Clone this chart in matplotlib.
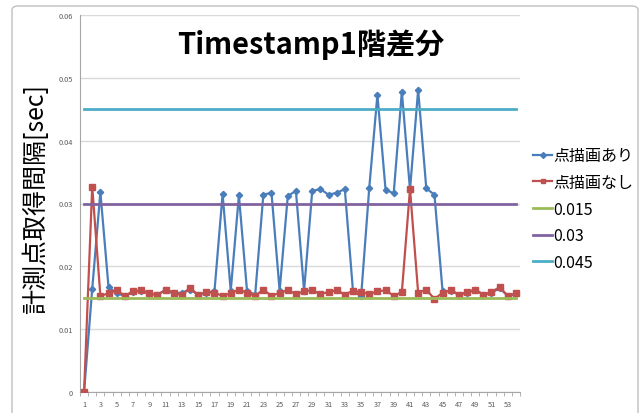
import numpy as np
import matplotlib.pyplot as plt
from matplotlib.patches import FancyBboxPatch

plt.rcParams['font.family'] = ['Noto Sans CJK JP', 'DejaVu Sans']

# sample index 1..54
idx = np.arange(1, 55)

# interval between measurement points, with point drawing
with_points = [
    0.0, 0.0164, 0.0318, 0.0167, 0.0157, 0.0153, 0.0159, 0.0161, 0.0156, 0.0155,
    0.0162, 0.0157, 0.0158, 0.0163, 0.0155, 0.0158, 0.0160, 0.0315, 0.0161, 0.0313,
    0.0161, 0.0155, 0.0314, 0.0317, 0.0161, 0.0312, 0.0320, 0.0161, 0.0320, 0.0323,
    0.0314, 0.0317, 0.0323, 0.0161, 0.0152, 0.0325, 0.0473, 0.0322, 0.0316, 0.0478,
    0.0322, 0.0481, 0.0324, 0.0314, 0.0160, 0.0161, 0.0155, 0.0158, 0.0162, 0.0155,
    0.0158, 0.0165, 0.0153, 0.0156,
]

# interval between measurement points, without point drawing
without_points = [
    0.0, 0.0327, 0.0153, 0.0157, 0.0162, 0.0153, 0.0160, 0.0162, 0.0158, 0.0154,
    0.0163, 0.0158, 0.0154, 0.0166, 0.0154, 0.0159, 0.0158, 0.0153, 0.0157, 0.0163,
    0.0158, 0.0153, 0.0163, 0.0153, 0.0158, 0.0162, 0.0156, 0.0160, 0.0162, 0.0156,
    0.0159, 0.0162, 0.0155, 0.0161, 0.0159, 0.0156, 0.0160, 0.0162, 0.0153, 0.0159,
    0.0323, 0.0158, 0.0163, 0.0148, 0.0158, 0.0162, 0.0155, 0.0159, 0.0163, 0.0155,
    0.0159, 0.0167, 0.0153, 0.0157,
]

# reference levels
levels = [0.015, 0.03, 0.045]
level_colors = ['#9BBB59', '#8064A2', '#4BACC6']

fig = plt.figure(figsize=(6.43, 4.14), dpi=100)
fig.patch.set_facecolor('white')

# chart frame
frame = FancyBboxPatch((12 / 643, -0.05), 626 / 643, 1 - 7 / 414 + 0.05,
                       boxstyle='round,pad=0,rounding_size=0.01',
                       transform=fig.transFigure, fill=False,
                       edgecolor='#BFBFBF', linewidth=1.0)
fig.patches.append(frame)

ax = fig.add_axes([80 / 643, 21 / 414, 440 / 643, 377 / 414])

ax.plot(idx, with_points, color='#4A7EBB', lw=1.6, marker='D', ms=3.2,
        label='点描画あり', zorder=3)
ax.plot(idx, without_points, color='#C0504D', lw=1.6, marker='s', ms=4.5,
        label='点描画なし', zorder=3)
for lv, col in zip(levels, level_colors):
    ax.plot(idx, np.full(len(idx), lv), color=col, lw=2.0, label=str(lv), zorder=4)

ax.set_xlim(0.5, 54.5)
ax.set_ylim(0, 0.06)

ax.set_yticks(np.arange(0, 0.061, 0.01))
ax.set_yticklabels(['0', '0.01', '0.02', '0.03', '0.04', '0.05', '0.06'])
ax.yaxis.grid(True, color='#D9D9D9', lw=1.0)
ax.set_axisbelow(True)

ax.set_xticks(idx[::2])
ax.set_xticklabels([str(i) for i in idx[::2]])
ax.set_xticks(np.arange(0.5, 55, 1), minor=True)
ax.tick_params(axis='x', which='major', length=0, labelsize=5.3, colors='#595959', pad=6)
ax.tick_params(axis='x', which='minor', length=3, color='#A6A6A6', direction='out')
ax.tick_params(axis='y', length=0, labelsize=5.3, colors='#595959', pad=5)

for side in ['top', 'right']:
    ax.spines[side].set_visible(False)
ax.spines['left'].set_color('#A6A6A6')
ax.spines['bottom'].set_color('#A6A6A6')

ax.set_ylabel('計測点取得間隔[sec]', fontsize=18)
ax.yaxis.set_label_coords(-0.07, 0.515)

fig.text(311 / 643, 1 - 45 / 414, 'Timestamp1階差分', ha='center', va='center',
         fontsize=21, fontweight='bold')

leg = ax.legend(loc='center left', bbox_to_anchor=(1.015, 0.485), frameon=False,
                fontsize=11.5, handlelength=1.2, handletextpad=0.05,
                labelspacing=0.6, borderaxespad=0)
for h in leg.legend_handles:
    h.set_markersize(3)

fig.savefig('out.png', dpi=100)
